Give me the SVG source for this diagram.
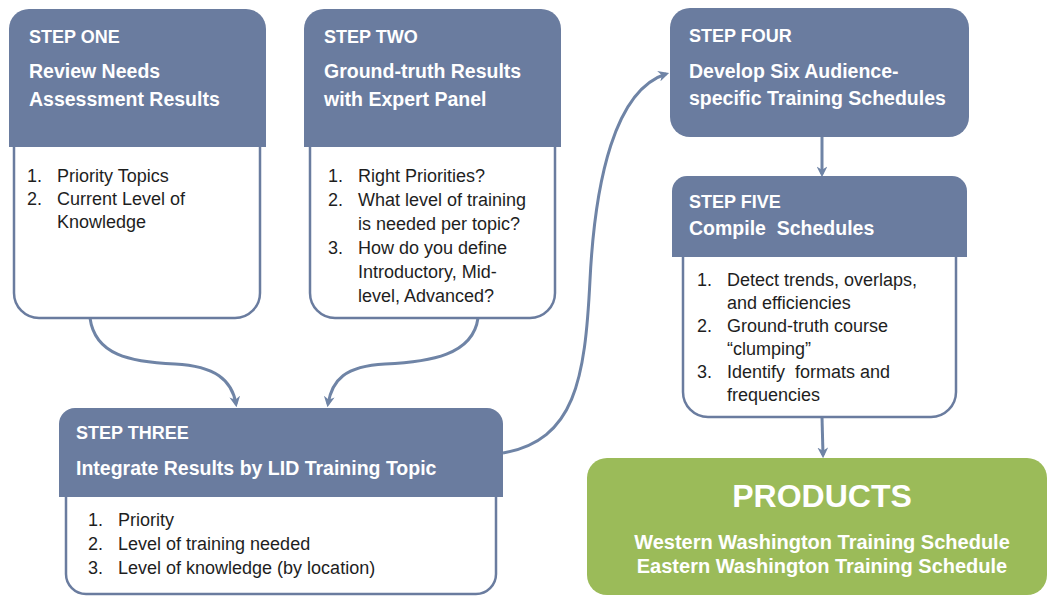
<svg xmlns="http://www.w3.org/2000/svg" width="1048" height="596" viewBox="0 0 1048 596">
<style>
.hdr{fill:#6A7C9F}
.body{fill:#FFFFFF;stroke:#6A7C9F;stroke-width:2.5}
.step{font-family:"Liberation Sans",Arial,sans-serif;font-weight:bold;font-size:18px;fill:#FFFFFF}
.title{font-family:"Liberation Sans",Arial,sans-serif;font-weight:bold;font-size:19.5px;fill:#FFFFFF}
.txt{font-family:"Liberation Sans",Arial,sans-serif;font-size:18px;fill:#1E1E1E}
.prodT{font-family:"Liberation Sans",Arial,sans-serif;font-weight:bold;font-size:32px;fill:#FFFFFF}
.prodS{font-family:"Liberation Sans",Arial,sans-serif;font-weight:bold;font-size:20px;fill:#FFFFFF}
.conn{fill:none;stroke:#6F84A6;stroke-width:3;marker-end:url(#ah)}
</style>
<defs>
<marker id="ah" viewBox="0 0 10 10" refX="7" refY="5" markerWidth="3.6" markerHeight="3.6" orient="auto" markerUnits="strokeWidth">
<path d="M0,0 L10,5 L0,10 L3,5 Z" fill="#6F84A6"/>
</marker>
</defs>
<rect width="1048" height="596" fill="#FFFFFF"/>

<g id="connectors">
<path class="conn" d="M90,318 C95,355 130,362 175,364 C215,366 232,380 236,404"/>
<path class="conn" d="M478,318 C473,355 430,362 385,364 C345,366 332,380 328,404"/>
<path class="conn" d="M503,453 C575,440 585,380 590,280 C595,180 615,90 666,74"/>
<path class="conn" d="M822,137 L822,174"/>
<path class="conn" d="M822,417 L823,455"/>
</g>

<g id="step-one">
<path class="body" d="M14,147 V293 A25,25 0 0 0 39,318 H235 A25,25 0 0 0 260,293 V147"/>
<path class="hdr" d="M9,147 V29 A20,20 0 0 1 29,9 H246 A20,20 0 0 1 266,29 V147 Z"/>
<text class="step" x="29" y="43">STEP ONE</text>
<text class="title" x="29" y="78">Review Needs</text>
<text class="title" x="29" y="106">Assessment Results</text>
<text class="txt" x="27" y="182">1.</text><text class="txt" x="57" y="182">Priority Topics</text>
<text class="txt" x="27" y="205">2.</text><text class="txt" x="57" y="205">Current Level of</text>
<text class="txt" x="57" y="228">Knowledge</text>
</g>

<g id="step-two">
<path class="body" d="M310,147 V293 A25,25 0 0 0 335,318 H530 A25,25 0 0 0 555,293 V147"/>
<path class="hdr" d="M304,147 V29 A20,20 0 0 1 324,9 H541 A20,20 0 0 1 561,29 V147 Z"/>
<text class="step" x="324" y="43">STEP TWO</text>
<text class="title" x="324" y="78">Ground-truth Results</text>
<text class="title" x="324" y="106">with Expert Panel</text>
<text class="txt" x="328" y="182">1.</text><text class="txt" x="358" y="182">Right Priorities?</text>
<text class="txt" x="328" y="206">2.</text><text class="txt" x="358" y="206">What level of training</text>
<text class="txt" x="358" y="230">is needed per topic?</text>
<text class="txt" x="328" y="254">3.</text><text class="txt" x="358" y="254">How do you define</text>
<text class="txt" x="358" y="278">Introductory, Mid-</text>
<text class="txt" x="358" y="302">level, Advanced?</text>
</g>

<g id="step-three">
<path class="body" d="M66,497 V574 A20,20 0 0 0 86,594 H476 A20,20 0 0 0 496,574 V497"/>
<path class="hdr" d="M59,497 V424 A16,16 0 0 1 75,408 H487 A16,16 0 0 1 503,424 V497 Z"/>
<text class="step" x="76" y="439">STEP THREE</text>
<text class="title" x="76" y="475">Integrate Results by LID Training Topic</text>
<text class="txt" x="88" y="526">1.</text><text class="txt" x="118" y="526">Priority</text>
<text class="txt" x="88" y="550">2.</text><text class="txt" x="118" y="550">Level of training needed</text>
<text class="txt" x="88" y="574">3.</text><text class="txt" x="118" y="574">Level of knowledge (by location)</text>
</g>

<g id="step-four">
<rect class="hdr" x="670" y="8" width="299" height="129" rx="20"/>
<text class="step" x="689" y="42">STEP FOUR</text>
<text class="title" x="689" y="78">Develop Six Audience-</text>
<text class="title" x="689" y="105">specific Training Schedules</text>
</g>

<g id="step-five">
<path class="body" d="M683,257 V392 A25,25 0 0 0 708,417 H931 A25,25 0 0 0 956,392 V257"/>
<path class="hdr" d="M672,257 V191 A15,15 0 0 1 687,176 H952 A15,15 0 0 1 967,191 V257 Z"/>
<text class="step" x="689" y="208">STEP FIVE</text>
<text class="title" x="689" y="235" xml:space="preserve">Compile  Schedules</text>
<text class="txt" x="697" y="286">1.</text><text class="txt" x="727" y="286">Detect trends, overlaps,</text>
<text class="txt" x="727" y="309">and efficiencies</text>
<text class="txt" x="697" y="332">2.</text><text class="txt" x="727" y="332">Ground-truth course</text>
<text class="txt" x="727" y="355">“clumping”</text>
<text class="txt" x="697" y="378">3.</text><text class="txt" x="727" y="378" xml:space="preserve">Identify  formats and</text>
<text class="txt" x="727" y="401">frequencies</text>
</g>

<g id="products">
<rect x="587" y="458" width="460" height="137" rx="20" fill="#9BBB59"/>
<text class="prodT" x="822" y="507" text-anchor="middle">PRODUCTS</text>
<text class="prodS" x="822" y="549" text-anchor="middle">Western Washington Training Schedule</text>
<text class="prodS" x="822" y="573" text-anchor="middle">Eastern Washington Training Schedule</text>
</g>
</svg>
